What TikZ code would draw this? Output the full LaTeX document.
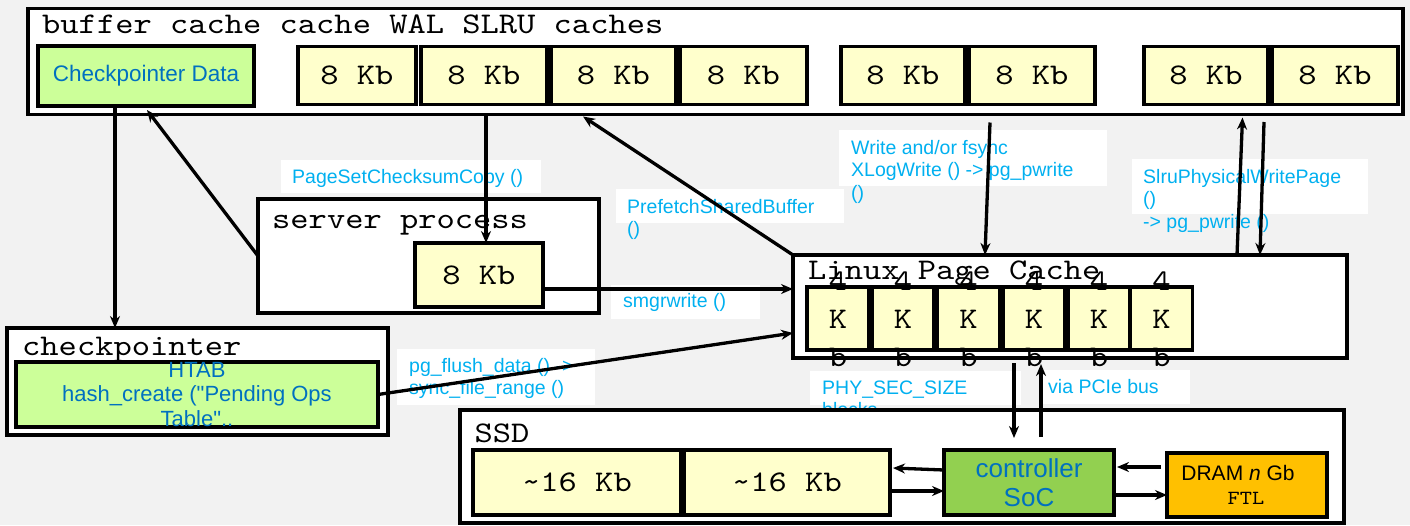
\documentclass[tikz,border=0pt]{standalone}
\usepackage{fontspec}
\setmainfont{Liberation Sans}[Ligatures=TeXOff]
\newfontfamily\cour{lmmono10-regular.otf}[FakeStretch=1.16]
\usetikzlibrary{arrows.meta,calc}
\definecolor{bg}{HTML}{F2F2F2}
\definecolor{lbl}{HTML}{00B0F0}
\definecolor{dblue}{HTML}{0070C0}
\definecolor{ylw}{HTML}{FFFFCC}
\definecolor{lgreen}{HTML}{CCFF99}
\definecolor{mgreen}{HTML}{92D050}
\definecolor{orng}{HTML}{FFC000}
\begin{document}
\begin{tikzpicture}[x=1pt,y=-1pt,
  box/.style={draw=black, line width=3.5pt, inner sep=0pt, outer sep=0pt},
  wbox/.style={box, fill=white},
  ybox/.style={box, fill=ylw, font=\cour\fontsize{30}{36}\selectfont},
  lbltxt/.style={text=lbl, font=\fontsize{19.5}{22.5}\selectfont, inner sep=0pt, anchor=base west},
  ttl/.style={font=\cour\fontsize{30}{38}\selectfont, inner sep=0pt, anchor=base west},
  ktxt/.style={font=\cour\fontsize{30}{38}\selectfont, inner sep=0pt, align=center},
  arr/.style={line width=3.3pt, -{Stealth[length=12pt,width=10pt]}},
]
\useasboundingbox (0,0) rectangle (1410,525);
\fill[bg] (0,0) rectangle (1410,525);

% buffer cache
\node[wbox, minimum width=1375, minimum height=106] (buf) at (715.5,61.5) {};
\node[ttl] (buft) at (42,33.5) {buffer cache cache WAL SLRU caches};
\node[box, fill=lgreen, minimum width=216, minimum height=60, text=dblue, font=\fontsize{22.5}{26}\selectfont] (cpdata) at (146,76) {Checkpointer Data};
\foreach \i/\x/\w in {1/357/118, 2/484/126, 3/613.5/125, 4/743.5/127, 5/903/124, 6/1032/126, 7/1206/124, 8/1335/126}
  \node[ybox, minimum width=\w, minimum height=58] (b\i) at (\x,75.5) {8 Kb};

% label backgrounds and texts
\fill[white] (281,160) rectangle (541,193);
\fill[white] (616,189) rectangle (844,223);
\fill[white] (611,285) rectangle (760,319);
\fill[white] (839,130) rectangle (1107,186);
\fill[white] (1132,159) rectangle (1368,214);
\fill[white] (810,371) rectangle (1021,405);
\fill[white] (1042,370) rectangle (1190,404);
\fill[white] (397,349) rectangle (595,405);
\node[lbltxt] (l1) at (292,183) {PageSetChecksumCopy ()};
\node[lbltxt] (l2) at (627,213) {\vtop{\hbox{PrefetchSharedBuffer}\hbox{()}}};
\node[lbltxt] (l3) at (623,307) {smgrwrite ()};
\node[lbltxt] (l4) at (851,154) {\vtop{\hbox{Write and/or fsync}\hbox{XLogWrite () -> pg\_pwrite}\hbox{()}}};
\node[lbltxt] (l5) at (1143,183) {\vtop{\hbox{SlruPhysicalWritePage}\hbox{()}\hbox{-> pg\_pwrite ()}}};
\node[lbltxt] (l6) at (822,394) {\vtop{\hbox{PHY\_SEC\_SIZE}\hbox{blocks}}};
\node[lbltxt] (l7) at (1048,393) {via PCIe bus};
\node[lbltxt] (l8) at (409,372) {\vtop{\hbox{pg\_flush\_data () ->}\hbox{sync\_file\_range ()}}};

% server process
\node[wbox, minimum width=341, minimum height=114] (server) at (428.5,256) {};
\node[ttl] (servert) at (272,228.5) {server process};
\node[ybox, minimum width=128, minimum height=64] (s8) at (479,275) {8 Kb};

% checkpointer
\node[wbox, minimum width=381, minimum height=107] (ckpt) at (197.5,381.5) {};
\node[ttl] (ckptt) at (22,355) {checkpointer};
\node[box, fill=lgreen, minimum width=362, minimum height=65, text=dblue, align=center, font=\fontsize{22}{24.5}\selectfont] (htab) at (197,394.5) {HTAB\\hash\_create ("Pending Ops\\Table"..};

% linux page cache
\node[wbox, minimum width=554, minimum height=103] (linux) at (1070,306.5) {};
\node[ttl] (linuxt) at (808,279) {Linux Page Cache};
\foreach \i/\x in {1/838, 2/903, 3/968.5, 4/1034, 5/1099, 6/1161.5} {
  \node[box, fill=ylw, minimum width=62, minimum height=63] (k\i) at (\x,318.5) {};
  \node[ktxt] (kt\i) at (\x,319) {4\\K\\b};
}

% SSD
\node[wbox, minimum width=884, minimum height=113] (ssd) at (902,466.5) {};
\node[ttl] (ssdt) at (474.5,442) {SSD};
\node[ybox, minimum width=208, minimum height=65] (s16a) at (577,482.5) {\char`\~16 Kb};
\node[ybox, minimum width=206, minimum height=65] (s16b) at (787,482.5) {\char`\~16 Kb};
\node[box, fill=mgreen, minimum width=170, minimum height=65, text=dblue, align=center, font=\fontsize{26}{29}\selectfont] (ctrl) at (1029,482.5) {controller\\SoC};
\node[box, fill=orng, minimum width=160, minimum height=64] (dram) at (1247,485) {};
\node[inner sep=0pt, anchor=base, font=\fontsize{21}{24}\selectfont] (dramt) at (1238,480) {DRAM \textit{n} Gb};
\node[inner sep=0pt, anchor=base, font=\cour\fontsize{20}{24}\selectfont] (ftl) at (1246,504) {FTL};

% arrows
\draw[arr] ([xshift=-31pt]cpdata.south) -- ([xshift=-82.5pt]ckpt.north);
\draw[arr] (server.west) -- ($(cpdata.south)+(1,4)$);
\draw[arr] ($(buf.south)+(-229.5,0)$) -- ($(s8.north)+(7,0)$);
\draw[arr] (linux.north west) -- ($(buf.south)+(-132.5,2)$);
\draw[arr] ($(s8.east)+(0,14)$) -- ($(linux.west)+(0,-17.5)$);
\draw[arr] (htab.east) -- ($(linux.west)+(0,26.5)$);
\draw[arr] ($(buf.south)+(274.5,8)$) -- ($(linux.north)+(-85,0)$);
\draw[arr] ($(linux.north)+(167,0)$) -- ($(buf.south)+(527,3)$);
\draw[arr] ($(buf.south)+(548.5,7.5)$) -- ($(linux.north)+(190,0)$);
\draw[arr] ($(linux.south)+(-56,5)$) -- ($(ctrl.north)+(-15,-12)$);
\draw[arr] ($(ctrl.north)+(12,-13)$) -- ($(linux.south)+(-29,6)$);
\draw[arr] ($(ctrl.west)+(0,-12.5)$) -- ($(s16b.east)+(3,-14.5)$);
\draw[arr] ($(s16b.east)+(0,8.5)$) -- ($(ctrl.west)+(0,8.5)$);
\draw[arr] ($(dram.west)+(-6,-18)$) -- ($(ctrl.east)+(3,-15.5)$);
\draw[arr] ($(ctrl.east)+(2,12.5)$) -- ($(dram.west)+(0,10)$);
\end{tikzpicture}
\end{document}
